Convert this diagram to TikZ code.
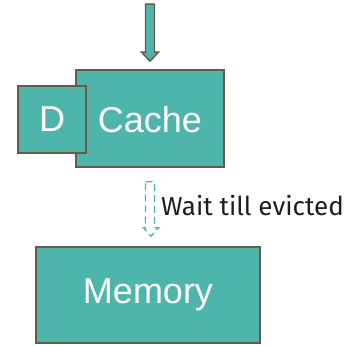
\documentclass[tikz,border=0pt]{standalone}
\usepackage{fontspec}
\setmainfont{Liberation Sans}
\newfontfamily\notefont{Fira Sans}
\usetikzlibrary{calc}
\definecolor{cachefill}{RGB}{77,181,172}
\definecolor{cacheedge}{RGB}{104,90,68}
\definecolor{notetext}{RGB}{30,30,30}

\begin{document}
\begin{tikzpicture}[x=1pt, y=-1pt,
    box/.style={draw=cacheedge, line width=1.6pt, fill=cachefill, text=white,
        font=\fontsize{36}{36}\selectfont, inner sep=0pt},
    solidarrow/.style={draw=cacheedge, line width=1.4pt, fill=cachefill, line join=miter},
    waitarrow/.style={draw=cachefill, line width=1.3pt, dash pattern=on 7pt off 4pt},
    note/.style={text=notetext, font=\notefont\fontsize{26}{26}\selectfont, anchor=base west, inner sep=0pt}]
    \useasboundingbox (0,0) rectangle (353,345);

    \node[box, minimum width=148pt, minimum height=97pt] (cache) at (150,118.5) {};
    \node[box, minimum width=68pt, minimum height=67pt] (d) at (52,119.5) {D};
    \node[text=white, font=\fontsize{36}{36}\selectfont] (cachelbl) at (150,120) {Cache};
    \node[box, minimum width=224pt, minimum height=96pt] (mem) at (148,295) {Memory};

    % incoming request
    \draw[solidarrow] ($(cache.north)+(-4.5,-65)$) -- ++(9,0) -- ++(0,48)
        -- ++(4,0) -- ($(cache.north)+(0,-8)$) -- ($(cache.north)+(-8.5,-17)$)
        -- ++(4,0) -- cycle;

    % write back once evicted
    \coordinate (wtop) at ($(cache.south)+(0,14)$);
    \coordinate (wtip) at ($(mem.north)+(3,-10)$);
    \draw[waitarrow] ($(wtop)+(-4.5,0)$) -- ($(wtop)+(4.5,0)$) -- ($(wtop)+(4.5,46)$)
        -- ($(wtop)+(8.5,46)$) -- (wtip) -- ($(wtop)+(-6.5,46)$)
        -- ($(wtop)+(-4.5,46)$) -- cycle;
    \node[note] (wait) at (161,215) {Wait till evicted};
\end{tikzpicture}
\end{document}
